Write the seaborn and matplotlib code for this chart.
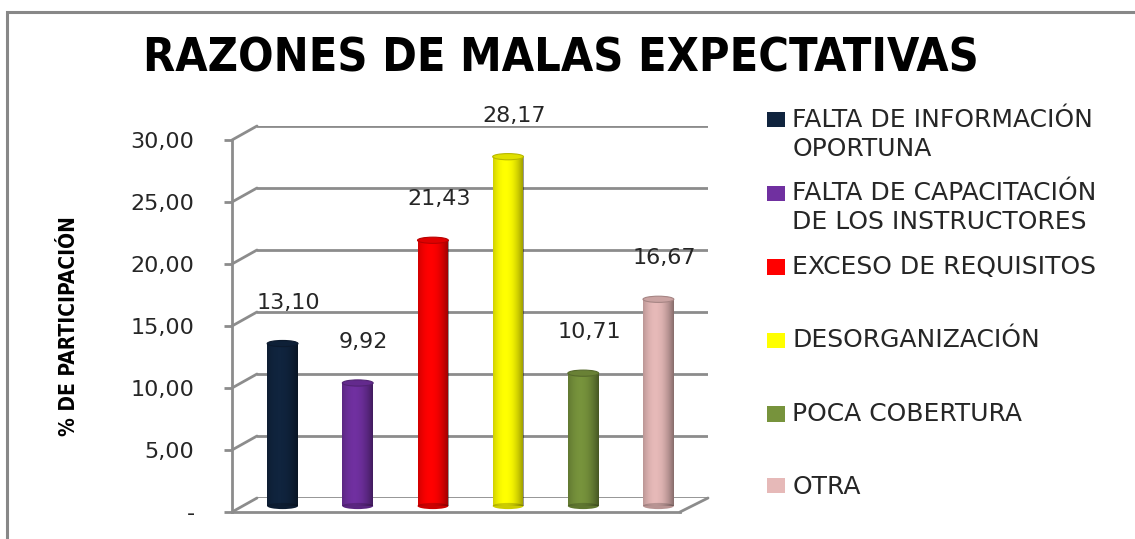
import numpy as np
import pandas as pd
import seaborn as sns
import matplotlib.pyplot as plt
from matplotlib.patches import Patch, Rectangle, Ellipse
from matplotlib.lines import Line2D
from matplotlib.legend_handler import HandlerPatch
import matplotlib.colors as mcolors

categories = ["FALTA DE INFORMACIÓN\nOPORTUNA",
              "FALTA DE CAPACITACIÓN\nDE LOS INSTRUCTORES",
              "EXCESO DE REQUISITOS",
              "DESORGANIZACIÓN",
              "POCA COBERTURA",
              "OTRA"]
values = [13.10, 9.92, 21.43, 28.17, 10.71, 16.67]
colors = ["#10243e", "#7030a0", "#ff0000", "#ffff00", "#77933c", "#e6b9b8"]
yticks = [0, 5, 10, 15, 20, 25, 30]
ytick_labels = ["-", "5,00", "10,00", "15,00", "20,00", "25,00", "30,00"]

df = pd.DataFrame({"razon": categories, "pct": values})

W, H = 1135, 539
sns.set_theme(style="white")
plt.rcParams["font.family"] = ["DejaVu Sans"]
fig = plt.figure(figsize=(W / 100, H / 100), dpi=100)

grid_col = "#8c8c8c"
txt_col = "#262626"
aw, ah = 451, 372


def box(left, bottom):
    return [left / W, (H - bottom) / H, aw / W, ah / H]


# back wall (gridlines), bars at mid depth, front axis
ax_back = fig.add_axes(box(257, 498))
ax = fig.add_axes(box(245, 506))
ax_front = fig.add_axes(box(232, 512))
for a in (ax_back, ax, ax_front):
    a.set_ylim(0, 30)
    a.set_xlim(-0.5, len(categories) - 0.5)
    a.patch.set_alpha(0)
    sns.despine(ax=a, left=True, bottom=True)
    a.set_xticks([])
ax_back.set_yticks([])
ax.set_yticks([])

for t in yticks:
    ax_back.axhline(t, color=grid_col, lw=2, zorder=0)

sns.barplot(data=df, x="razon", y="pct", hue="razon", palette=colors,
            width=0.41, legend=False, ax=ax, saturation=1)
ax.set_xlabel("")
ax.set_ylabel("")
ax.set_xticks([])
ax.set_xlim(-0.5, len(categories) - 0.5)

# cylinder shading
t = np.linspace(0, 1, 64)
dark = 0.42 * ((t - 0.4) / 0.6) ** 2
shade = np.zeros((1, 64, 4))
shade[..., 3] = dark
for p, c in zip(ax.patches, colors):
    x, w, h = p.get_x(), p.get_width(), p.get_height()
    p.set_edgecolor("none")
    im = ax.imshow(shade, extent=[x, x + w, 0, h], aspect="auto", zorder=3)
    im.set_clip_path(p)
    rgb = np.array(mcolors.to_rgb(c))
    top = Ellipse((x + w / 2, h), w, 0.5, facecolor=rgb * 0.88,
                  edgecolor=rgb * 0.72, lw=0.8, zorder=4)
    bot = Ellipse((x + w / 2, 0), w, 0.5, facecolor=rgb * 0.8,
                  edgecolor="none", zorder=2, clip_on=False)
    ax.add_patch(top)
    ax.add_patch(bot)
ax.set_ylim(0, 30)
ax.set_xlim(-0.5, len(categories) - 0.5)

labels = [f"{v:.2f}".replace(".", ",") for v in values]
for i, v in enumerate(values):
    ax.text(i + 0.08, v + 3.3, labels[i], ha="center", va="center",
            fontsize=16, color=txt_col)

# front axis
for side in ("left", "bottom"):
    ax_front.spines[side].set_visible(True)
    ax_front.spines[side].set_color(grid_col)
    ax_front.spines[side].set_linewidth(2)
ax_front.spines["bottom"].set_bounds(-0.5, len(categories) - 0.5 - 3 / 75)
ax_front.set_yticks(yticks)
ax_front.set_yticklabels(ytick_labels, fontsize=16, color=txt_col)
ax_front.tick_params(axis="y", left=True, length=6, width=2, color=grid_col, pad=21)
ax_front.set_ylabel("% DE PARTICIPACIÓN", fontsize=15, fontweight="bold",
                    fontstretch="condensed", color="black")
ax_front.yaxis.set_label_coords(-0.34, 0.5)

# depth lines between front axis and back wall
fig.canvas.draw()
inv = fig.transFigure.inverted()
for t in yticks:
    p0 = inv.transform(ax_front.transData.transform((-0.5, t)))
    p1 = inv.transform(ax_back.transData.transform((-0.5, t)))
    fig.add_artist(Line2D([p0[0], p1[0]], [p0[1], p1[1]], color=grid_col, lw=2))
p0 = inv.transform(ax_front.transData.transform((len(categories) - 0.5 - 3 / 75, 0)))
p1 = inv.transform(ax_back.transData.transform((len(categories) - 0.5, 0)))
fig.add_artist(Line2D([p0[0], p1[0]], [p0[1], p1[1]], color=grid_col, lw=2))

# legend: every entry gets two lines so the slots are even; swatch sits
# level with the first line
handles = [Patch(facecolor=c, edgecolor="none") for c in colors]
leg_labels = [c if ("\n" in c or i == len(categories) - 1) else c + "\n "
              for i, c in enumerate(categories)]
two_line = {id(h): "\n" in lab for h, lab in zip(handles, leg_labels)}


def first_line_box(legend, orig_handle, xdescent, ydescent, width, height, fontsize):
    shift = 0.6 * fontsize if two_line[id(orig_handle)] else 0
    return Rectangle((-xdescent, -ydescent + shift), width, height)


leg = fig.legend(handles, leg_labels, loc="upper left",
                 bbox_to_anchor=(754 / W, 1 - 95 / H),
                 frameon=False, fontsize=18, handlelength=0.72, handleheight=0.56,
                 handletextpad=0.32, labelspacing=0.81, borderpad=0,
                 handler_map={Patch: HandlerPatch(patch_func=first_line_box)},
                 labelcolor=txt_col)
for tx in leg.get_texts():
    tx.set_linespacing(1.28)

fig.text(561 / W, 1 - 72 / H, "RAZONES DE MALAS EXPECTATIVAS", ha="center",
         va="baseline", fontsize=33.5, fontweight="bold", fontstretch="condensed",
         color="black")

fig.add_artist(Rectangle((7 / W, -0.05), 1.2, 1.05 - 12 / H, transform=fig.transFigure,
                         fill=False, edgecolor="#888888", lw=2.2))

fig.savefig("out.png", dpi=100)
